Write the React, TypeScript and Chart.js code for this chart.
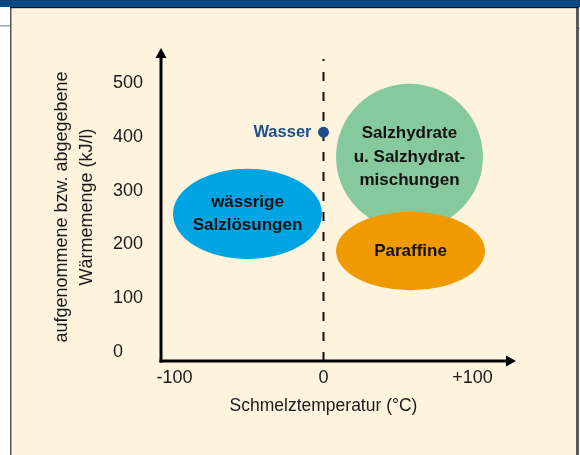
import React, { useEffect, useRef } from "react";
import { Chart, registerables } from "chart.js";

Chart.register(...registerables);

// Regions (ellipses) in data units
const regionLabels: string[][] = [
  ["Salzhydrate", "u. Salzhydrat-", "mischungen"],
  ["Paraffine"],
  ["wässrige", "Salzlösungen"],
];
const regionCenterX = [57.7, 58.4, -51];
const regionCenterY = [363, 188, 257];
const regionRadiusX = [49.3, 50, 50];
const regionRadiusY = [136, 73, 84];
const regionColors = ["#86C99C", "#EF9A00", "#00A4E2"];

// Single point
const pointLabels = ["Wasser"];
const pointX = [0];
const pointY = [409];

// Axes
const xTickValues = [-100, 0, 100];
const xTickLabels = ["-100", "0", "+100"];
const yTickValues = [0, 100, 200, 300, 400, 500];
const yTickLabels = ["0", "100", "200", "300", "400", "500"];
const xTitle = "Schmelztemperatur (°C)";
const yTitle = ["aufgenommene bzw. abgegebene", "Wärmemenge (kJ/l)"];

const FONT = '"Liberation Sans", Arial, sans-serif';

const drawPlugin = {
  id: "custom-draw",
  beforeDraw(chart: any) {
    const ctx = chart.ctx as CanvasRenderingContext2D;
    const W = chart.width;
    const H = chart.height;
    ctx.save();
    ctx.fillStyle = "#ffffff";
    ctx.fillRect(0, 0, W, H);
    // faint lines outside the panel
    ctx.fillStyle = "#9aa6c4";
    ctx.fillRect(0, 25, 10, 1.5);
    ctx.fillRect(578, 28, 2, 1);
    // panel
    ctx.fillStyle = "#FEF3DD";
    ctx.fillRect(10, 8, 567, H - 8);
    ctx.fillStyle = "#555555";
    ctx.fillRect(10, 8, 1.5, H - 8);
    ctx.fillStyle = "#5a5a5a";
    ctx.fillRect(576, 8, 3, H - 8);
    // header bar
    ctx.fillStyle = "#004680";
    ctx.fillRect(0, 0, W, 7);
    ctx.fillStyle = "#111111";
    ctx.fillRect(10, 7, 569, 1.2);
    ctx.restore();
  },
  beforeDatasetsDraw(chart: any) {
    const ctx = chart.ctx as CanvasRenderingContext2D;
    const xs = chart.scales.x;
    const ys = chart.scales.y;
    const area = chart.chartArea;
    ctx.save();

    // ellipses
    for (let i = 0; i < regionLabels.length; i++) {
      const cx = xs.getPixelForValue(regionCenterX[i]);
      const cy = ys.getPixelForValue(regionCenterY[i]);
      const rx = Math.abs(xs.getPixelForValue(regionCenterX[i] + regionRadiusX[i]) - cx);
      const ry = Math.abs(ys.getPixelForValue(regionCenterY[i] + regionRadiusY[i]) - cy);
      ctx.beginPath();
      ctx.ellipse(cx, cy, rx, ry, 0, 0, Math.PI * 2);
      ctx.fillStyle = regionColors[i];
      ctx.fill();
    }

    // dashed line at x = 0
    const x0 = xs.getPixelForValue(0);
    ctx.beginPath();
    ctx.setLineDash([9, 11]);
    ctx.strokeStyle = "#111111";
    ctx.lineWidth = 2;
    ctx.moveTo(x0, area.bottom);
    ctx.lineTo(x0, 59);
    ctx.stroke();
    ctx.setLineDash([]);

    // axes
    const left = area.left;
    const bottom = area.bottom;
    ctx.fillStyle = "#000000";
    ctx.fillRect(left - 1.5, area.top + 9, 3, bottom - area.top - 9 + 1.5);
    ctx.fillRect(left - 1.5, bottom - 1.5, area.right - left - 9 + 1.5, 3);
    ctx.beginPath();
    ctx.moveTo(left, area.top);
    ctx.lineTo(left - 5.5, area.top + 10);
    ctx.lineTo(left + 5.5, area.top + 10);
    ctx.closePath();
    ctx.fill();
    ctx.beginPath();
    ctx.moveTo(area.right, bottom);
    ctx.lineTo(area.right - 10, bottom - 5.5);
    ctx.lineTo(area.right - 10, bottom + 5.5);
    ctx.closePath();
    ctx.fill();

    // tick labels
    ctx.fillStyle = "#1a1a1a";
    ctx.font = `18px ${FONT}`;
    ctx.textBaseline = "middle";
    ctx.textAlign = "left";
    for (let i = 0; i < yTickValues.length; i++) {
      const y = ys.getPixelForValue(yTickValues[i]);
      ctx.fillText(yTickLabels[i], 113, y);
    }
    ctx.textAlign = "center";
    for (let i = 0; i < xTickValues.length; i++) {
      const x = xs.getPixelForValue(xTickValues[i]);
      ctx.fillText(xTickLabels[i], x, bottom + 17);
    }
    // axis titles
    ctx.font = `17.5px ${FONT}`;
    ctx.fillText(xTitle, x0, bottom + 45);
    ctx.save();
    ctx.translate(75, 207);
    ctx.rotate(-Math.PI / 2);
    ctx.font = `18px ${FONT}`;
    ctx.fillText(yTitle[0], 0, -12.5);
    ctx.fillText(yTitle[1], 0, 12.5);
    ctx.restore();

    // region labels
    ctx.fillStyle = "#111111";
    ctx.font = `bold 17px ${FONT}`;
    ctx.textAlign = "center";
    for (let i = 0; i < regionLabels.length; i++) {
      const cx = xs.getPixelForValue(regionCenterX[i]);
      const cy = ys.getPixelForValue(regionCenterY[i]);
      const lines = regionLabels[i];
      const lh = 23.5;
      for (let j = 0; j < lines.length; j++) {
        ctx.fillText(lines[j], cx, cy + (j - (lines.length - 1) / 2) * lh);
      }
    }

    // point labels
    ctx.fillStyle = "#1F4E8C";
    ctx.font = `bold 16.5px ${FONT}`;
    ctx.textAlign = "right";
    for (let i = 0; i < pointLabels.length; i++) {
      const px = xs.getPixelForValue(pointX[i]);
      const py = ys.getPixelForValue(pointY[i]);
      ctx.fillText(pointLabels[i], px - 12, py);
    }
    ctx.restore();
  },
};

export default function App() {
  const ref = useRef<HTMLCanvasElement | null>(null);
  useEffect(() => {
    if (!ref.current) return;
    const chart = new Chart(ref.current, {
      type: "scatter",
      data: {
        datasets: [
          {
            label: "Wasser",
            data: pointX.map((x, i) => ({ x, y: pointY[i] })),
            pointRadius: 5.5,
            pointHoverRadius: 5.5,
            backgroundColor: "#1F4E8C",
            borderColor: "#1F4E8C",
            borderWidth: 0,
          },
        ],
      },
      options: {
        responsive: false,
        animation: false,
        layout: { padding: { left: 161, right: 64, top: 48, bottom: 94 } },
        scales: {
          x: { type: "linear", display: false, min: -109.06, max: 129.2 },
          y: { type: "linear", display: false, min: -16.7, max: 565.6 },
        },
        plugins: {
          legend: { display: false },
          tooltip: { enabled: false },
          title: { display: false },
        },
      },
      plugins: [drawPlugin],
    });
    return () => chart.destroy();
  }, []);
  return (
    <div style={{ position: "fixed", left: 0, top: 0, width: 580, height: 455 }}>
      <canvas ref={ref} width={580} height={455} style={{ width: 580, height: 455, display: "block" }} />
    </div>
  );
}
